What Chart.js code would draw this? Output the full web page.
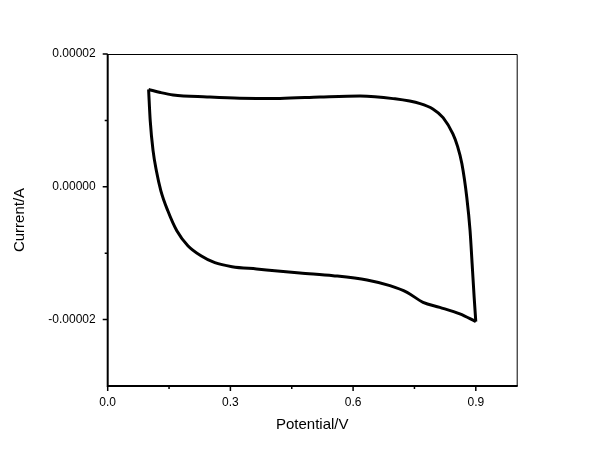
<!DOCTYPE html>
<html>
<head>
<meta charset="utf-8">
<script src="https://cdn.jsdelivr.net/npm/chart.js@4/dist/chart.umd.min.js"></script>
<style>
  html, body { margin: 0; padding: 0; background: #fff; }
  #wrap { width: 600px; height: 463px; }
</style>
</head>
<body>
<div id="wrap"><canvas id="cv"></canvas></div>
<script>
// Barrido directo: de 0.1 V (arriba) hasta 0.9 V y baja por la derecha
const fwdPotential = [0.100, 0.129, 0.160, 0.243, 0.323, 0.421, 0.519, 0.617, 0.698, 0.764, 0.795, 0.820, 0.844, 0.855, 0.866, 0.878, 0.886, 0.891, 0.896, 0.900];
const fwdCurrent   = [1.466e-5, 1.420e-5, 1.383e-5, 1.353e-5, 1.334e-5, 1.331e-5, 1.353e-5, 1.368e-5, 1.328e-5, 1.253e-5, 1.173e-5, 1.042e-5, 0.797e-5, 0.617e-5, 0.346e-5, -0.161e-5, -0.662e-5, -1.158e-5, -1.665e-5, -2.03e-5];

// Barrido de vuelta: de 0.9 V por abajo hasta 0.1 V y sube por la izquierda
const revPotential = [0.900, 0.861, 0.812, 0.771, 0.732, 0.690, 0.634, 0.551, 0.470, 0.364, 0.304, 0.262, 0.228, 0.196, 0.169, 0.147, 0.130, 0.119, 0.111, 0.104, 0.100];
const revCurrent   = [-2.03e-5, -1.914e-5, -1.815e-5, -1.740e-5, -1.590e-5, -1.489e-5, -1.403e-5, -1.338e-5, -1.298e-5, -1.238e-5, -1.203e-5, -1.143e-5, -1.038e-5, -0.887e-5, -0.662e-5, -0.361e-5, -0.060e-5, 0.241e-5, 0.541e-5, 0.992e-5, 1.466e-5];

// Ejes: marcas mayores con etiqueta y menores sin etiqueta
const xMajor = [0.0, 0.3, 0.6, 0.9];
const xMinor = [0.15, 0.45, 0.75];
const yMajor = [0.00002, 0.0, -0.00002];
const yMinor = [0.00001, -0.00001];
const yLabels = ["0.00002", "0.00000", "-0.00002"];

const FONT = "'Liberation Sans', Arial, sans-serif";

const toPts = (xs, ys) => xs.map((x, i) => ({ x, y: ys[i] }));

// Plugin para dibujar marco y marcas de los ejes
const frameTicks = {
  id: "frameTicks",
  afterDraw(chart) {
    const { ctx, chartArea: a, scales: { x, y } } = chart;
    ctx.save();
    ctx.strokeStyle = "#000";
    // marco fino arriba y a la derecha
    ctx.lineWidth = 1;
    ctx.beginPath();
    ctx.moveTo(a.left, a.top + 0.5);
    ctx.lineTo(a.right + 0.5, a.top + 0.5);
    ctx.lineTo(a.right + 0.5, a.bottom);
    ctx.stroke();
    // ejes gruesos izquierda y abajo
    ctx.lineWidth = 2;
    ctx.beginPath();
    ctx.moveTo(a.left, a.top);
    ctx.lineTo(a.left, a.bottom);
    ctx.lineTo(a.right + 1, a.bottom);
    ctx.stroke();
    // marcas
    ctx.lineWidth = 1.5;
    ctx.beginPath();
    xMajor.forEach((v) => { const p = x.getPixelForValue(v); ctx.moveTo(p, a.bottom); ctx.lineTo(p, a.bottom + 5); });
    xMinor.forEach((v) => { const p = x.getPixelForValue(v); ctx.moveTo(p, a.bottom); ctx.lineTo(p, a.bottom + 3); });
    yMajor.forEach((v) => { const p = y.getPixelForValue(v); ctx.moveTo(a.left, p); ctx.lineTo(a.left - 5, p); });
    yMinor.forEach((v) => { const p = y.getPixelForValue(v); ctx.moveTo(a.left, p); ctx.lineTo(a.left - 3, p); });
    ctx.stroke();
    ctx.restore();
  },
};

const lineStyle = { showLine: true, borderColor: "#000", borderWidth: 3, pointRadius: 0, cubicInterpolationMode: "monotone" };

new Chart(document.getElementById("cv"), {
  type: "scatter",
  data: {
    datasets: [
      { data: toPts(fwdPotential, fwdCurrent), ...lineStyle },
      { data: toPts(revPotential, revCurrent), ...lineStyle },
    ],
  },
  options: {
    responsive: true,
    maintainAspectRatio: false,
    animation: false,
    layout: { padding: { left: 0, top: 54, right: 83.3, bottom: 0 } },
    plugins: { legend: { display: false }, tooltip: { enabled: false } },
    scales: {
      x: {
        type: "linear",
        min: 0, max: 1.0,
        afterFit: (s) => { s.height = 463 - 386; },
        afterBuildTicks: (s) => { s.ticks = xMajor.map((v) => ({ value: v })); },
        grid: { display: false, drawTicks: false },
        border: { display: false },
        ticks: {
          color: "#000", padding: 9,
          font: { family: FONT, size: 12 },
          callback: (v) => Number(v).toFixed(1),
        },
        title: {
          display: true, text: "Potential/V", color: "#000",
          font: { family: FONT, size: 15 },
          padding: { top: 0, bottom: 29 },
        },
      },
      y: {
        type: "linear",
        min: -0.00003, max: 0.00002,
        afterFit: (s) => { s.width = 107.7; },
        afterBuildTicks: (s) => { s.ticks = yMajor.map((v) => ({ value: v })); },
        grid: { display: false, drawTicks: false },
        border: { display: false },
        ticks: {
          color: "#000", padding: 12,
          font: { family: FONT, size: 12 },
          callback: (v, i) => yLabels[i],
        },
        title: {
          display: true, text: "Current/A", color: "#000",
          font: { family: FONT, size: 15 },
          padding: { top: 11, bottom: 0 },
        },
      },
    },
  },
  plugins: [frameTicks],
});
</script>
</body>
</html>
